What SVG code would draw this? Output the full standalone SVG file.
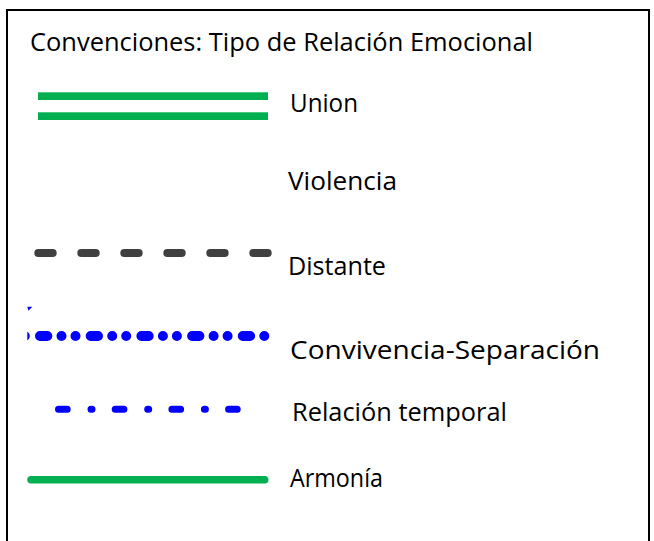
<svg xmlns="http://www.w3.org/2000/svg" width="654" height="541" viewBox="0 0 654 541">
<style>
text{font-family:"Open Sans","Liberation Sans",sans-serif;font-size:26px;fill:#000}
.green{fill:#00B050}
.line{fill:none;stroke-linecap:round}
</style>
<defs>
<clipPath id="clipConv"><rect x="27.3" y="320" width="260" height="30"/></clipPath>
</defs>
<rect x="7" y="10" width="642" height="545" fill="#fff" stroke="#000" stroke-width="2"/>
<g id="title"><text x="30" y="51" textLength="503" lengthAdjust="spacingAndGlyphs">Convenciones: Tipo de Relación Emocional</text></g>
<g id="connectors">
<g id="union-line">
<rect class="green" x="38" y="92.3" width="230" height="7.7"/>
<rect class="green" x="38" y="112.3" width="230" height="7.7"/>
</g>
<path id="distante-line" class="line" d="M38.3,253 H267.7" stroke="#404040" stroke-width="8" stroke-dasharray="14.4 28.6"/>
<path id="conv-tick" d="M27.3,306.7 L32.3,306.7 L28.5,310.8 Z" fill="#0000FF"/>
<path id="conv-line" class="line" clip-path="url(#clipConv)" d="M24.8,336 H265" stroke="#0000FF" stroke-width="10" stroke-dasharray="0 15.2 7.3 14.2 0 14"/>
<path id="temporal-line" class="line" d="M58.5,409.3 H237.2" stroke="#0000FF" stroke-width="7" stroke-dasharray="8.7 23.8 1 23.2"/>
<path id="armonia-line" class="line" d="M31,479.7 H264.7" stroke="#00B050" stroke-width="7.5"/>
</g>
<g id="label-union"><text x="290" y="112" textLength="68" lengthAdjust="spacingAndGlyphs">Union</text></g>
<g id="label-violencia"><text x="288" y="190" textLength="109" lengthAdjust="spacingAndGlyphs">Violencia</text></g>
<g id="label-distante"><text x="288" y="275" textLength="98" lengthAdjust="spacingAndGlyphs">Distante</text></g>
<g id="label-convivencia"><text x="290" y="359" textLength="310" lengthAdjust="spacingAndGlyphs">Convivencia-Separación</text></g>
<g id="label-temporal"><text x="292" y="421" textLength="215" lengthAdjust="spacingAndGlyphs">Relación temporal</text></g>
<g id="label-armonia"><text x="290" y="487" textLength="93" lengthAdjust="spacingAndGlyphs">Armonía</text></g>
</svg>
